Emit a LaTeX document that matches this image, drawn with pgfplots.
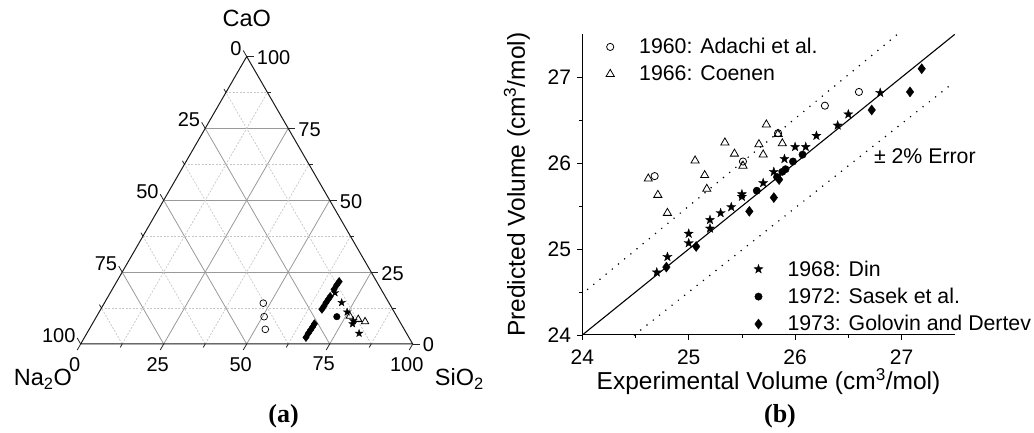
\documentclass[border=0pt]{standalone}
\usepackage{fontspec}
\setmainfont{Liberation Sans}
\newfontfamily\capfont{Liberation Serif}
\usepackage{pgfplots}
\usepackage{pgfplotstable}
\pgfplotsset{compat=1.18}
\usetikzlibrary{plotmarks}

\tikzset{
  ternmaj/.style={black!40, line width=0.8pt},
  ternmin/.style={black!22, line width=0.7pt, dash pattern=on 2pt off 1.5pt},
  ttick/.style={black!85, line width=0.8pt},
}

\pgfdeclareplotmark{fstar}{%
 \pgfpathmoveto{\pgfpointpolar{90}{\pgfplotmarksize}}%
 \pgfpathlineto{\pgfpointpolar{126}{0.40\pgfplotmarksize}}%
 \pgfpathlineto{\pgfpointpolar{162}{\pgfplotmarksize}}%
 \pgfpathlineto{\pgfpointpolar{198}{0.40\pgfplotmarksize}}%
 \pgfpathlineto{\pgfpointpolar{234}{\pgfplotmarksize}}%
 \pgfpathlineto{\pgfpointpolar{270}{0.40\pgfplotmarksize}}%
 \pgfpathlineto{\pgfpointpolar{306}{\pgfplotmarksize}}%
 \pgfpathlineto{\pgfpointpolar{342}{0.40\pgfplotmarksize}}%
 \pgfpathlineto{\pgfpointpolar{18}{\pgfplotmarksize}}%
 \pgfpathlineto{\pgfpointpolar{54}{0.40\pgfplotmarksize}}%
 \pgfpathclose
 \pgfusepathqfillstroke
}

% ---------- ternary compositions (SiO2, CaO) ----------
\pgfplotstableread{
S C
47.9 14.2
50.5 9.5
53.05 5.1
}\terAdachi
\pgfplotstableread{
S C
76.2 9.7
79.3 8.6
81.75 7.8
}\terCoenen
\pgfplotstableread{
S C
67.7 17.8
71.4 14.4
74.7 11.1
78.05 8.1
78.4 7.0
82.0 3.7
}\terDin
\pgfplotstableread{
S C
72.4 9.5
}\terSasek
\pgfplotstableread{
S C
66.7 2.3
66.7 3.7
66.8 4.9
66.9 6.0
66.9 7.0
66.6 12.1
66.7 13.2
66.7 14.4
66.8 15.5
66.9 16.5
66.8 19.0
66.85 20.5
67.0 21.7
}\terGolovin

% ---------- volumes (experimental, predicted) ----------
\pgfplotstableread{
x y
24.68 25.85
25.51 26.02
25.84 26.35
26.28 26.67
26.60 26.83
}\volAdachi
\pgfplotstableread{
x y
24.62 25.82
24.71 25.63
24.80 25.42
25.06 26.03
25.15 25.86
25.17 25.70
25.34 26.24
25.43 26.11
25.51 25.97
25.66 26.22
25.70 26.10
25.73 26.45
25.84 26.34
25.88 26.23
}\volCoenen
\pgfplotstableread{
x y
24.70 24.73
24.80 24.91
25.00 25.18
25.00 25.07
25.20 25.34
25.20 25.24
25.30 25.42
25.40 25.49
25.50 25.64
25.50 25.61
25.70 25.77
25.80 25.90
25.90 26.05
26.00 26.19
26.10 26.19
26.20 26.32
26.40 26.44
26.50 26.57
26.80 26.82
}\volDin
\pgfplotstableread{
x y
25.64 25.68
25.83 25.84
25.88 25.90
25.91 25.93
25.98 26.02
26.07 26.10
}\volSasek
\pgfplotstableread{
x y
24.79 24.79
25.07 25.03
25.57 25.44
25.80 25.60
25.85 25.81
26.72 26.62
27.08 26.83
27.19 27.10
}\volGolovin

\newcommand\tfont{\fontsize{20}{24}\selectfont}
\newcommand\bfontt{\fontsize{21}{25}\selectfont}
\newcommand\lfont{\fontsize{23.5}{28}\selectfont}
\newcommand\blfont{\fontsize{24.5}{29}\selectfont}
\newcommand\gfont{\fontsize{21.3}{25}\selectfont}

\begin{document}
\begin{tikzpicture}
\useasboundingbox (0pt,0pt) rectangle (1034pt,433pt);

% ================= (a) ternary =================
\begin{axis}[
  at={(80.7pt,89pt)}, anchor=south west,
  scale only axis, width=332pt, height=287.5pt,
  xmin=0, xmax=100, ymin=0, ymax=86.60254,
  hide axis, clip=false,
]
% grid
\pgfplotsinvokeforeach{25,50,75}{
  \draw[ternmaj] (axis cs:#1/2,0.8660254*#1) -- (axis cs:100-#1/2,0.8660254*#1);
  \draw[ternmaj] (axis cs:#1,0) -- (axis cs:50+#1/2,86.60254-0.8660254*#1);
  \draw[ternmaj] (axis cs:100-#1,0) -- (axis cs:50-#1/2,86.60254-0.8660254*#1);
}
\pgfplotsinvokeforeach{12.5,37.5,62.5,87.5}{
  \draw[ternmin] (axis cs:#1/2,0.8660254*#1) -- (axis cs:100-#1/2,0.8660254*#1);
  \draw[ternmin] (axis cs:#1,0) -- (axis cs:50+#1/2,86.60254-0.8660254*#1);
  \draw[ternmin] (axis cs:100-#1,0) -- (axis cs:50-#1/2,86.60254-0.8660254*#1);
  \draw[ttick] (axis cs:#1,0) -- (axis cs:#1-0.6,-1.04);
  \draw[ttick] (axis cs:100-#1/2,0.8660254*#1) -- (axis cs:101.2-#1/2,0.8660254*#1);
  \draw[ttick] (axis cs:50-#1/2,86.60254-0.8660254*#1) -- (axis cs:49.4-#1/2,87.64-0.8660254*#1);
}
\pgfplotsinvokeforeach{0,25,50,75,100}{
  \draw[ttick] (axis cs:#1,0) -- (axis cs:#1-1.05,-1.819);
  \draw[ttick] (axis cs:100-#1/2,0.8660254*#1) -- (axis cs:102.1-#1/2,0.8660254*#1);
  \draw[ttick] (axis cs:50-#1/2,86.60254-0.8660254*#1) -- (axis cs:48.95-#1/2,88.42-0.8660254*#1);
  \node[anchor=north, inner sep=0pt, xshift=-6pt, yshift=-13pt, font=\tfont] at (axis cs:#1,0) {#1};
  \node[anchor=west, inner sep=0pt, xshift=10pt, yshift=-1pt, font=\tfont] at (axis cs:100-#1/2,0.8660254*#1) {#1};
  \node[anchor=south east, inner sep=0pt, xshift=-5pt, yshift=1pt, font=\tfont] at (axis cs:50-#1/2,86.60254-0.8660254*#1) {#1};
}
\draw[black!90, line width=1pt] (axis cs:0,0) -- (axis cs:100,0) -- (axis cs:50,86.60254) -- cycle;

\node[anchor=base, inner sep=0pt, font=\lfont, yshift=29.5pt] at (axis cs:50,86.60254) {CaO};
\node[anchor=base east, inner sep=0pt, font=\lfont, xshift=-8.7pt, yshift=-42pt] at (axis cs:0,0) {Na\textsubscript{2}O};
\node[anchor=base west, inner sep=0pt, font=\lfont, xshift=22pt, yshift=-42pt] at (axis cs:100,0) {SiO\textsubscript{2}};

\addplot[only marks, mark=o, mark size=3.4pt, black, line width=0.7pt]
  table[x expr=\thisrow{S}+0.5*\thisrow{C}, y expr=0.8660254*\thisrow{C}] {\terAdachi};
\addplot[only marks, mark=triangle, mark size=4.2pt, black, line width=0.8pt]
  table[x expr=\thisrow{S}+0.5*\thisrow{C}, y expr=0.8660254*\thisrow{C}] {\terCoenen};
\addplot[only marks, mark=diamond*, mark size=4.2pt, black]
  table[x expr=\thisrow{S}+0.5*\thisrow{C}, y expr=0.8660254*\thisrow{C}] {\terGolovin};
\addplot[only marks, mark=fstar, mark size=4pt, black, line width=0.3pt]
  table[x expr=\thisrow{S}+0.5*\thisrow{C}, y expr=0.8660254*\thisrow{C}] {\terDin};
\addplot[only marks, mark=*, mark size=3.3pt, black]
  table[x expr=\thisrow{S}+0.5*\thisrow{C}, y expr=0.8660254*\thisrow{C}] {\terSasek};
\end{axis}

% ================= (b) volumes =================
\pgfplotsset{
  pbgeom/.style={
    at={(582.3pt,98pt)}, anchor=south west,
    scale only axis, width=372.4pt, height=300.6pt,
    xmin=24, xmax=27.5, ymin=24, ymax=27.5, clip=false,
  },
  pblegend/.style={
    legend image code/.code={\path[draw=none,fill=none] (-6pt,-6pt) rectangle (27pt,6pt); \draw[##1] plot coordinates {(0pt,0pt)};},
    legend style={draw=none, fill=none, font=\gfont, row sep=6.5pt, inner sep=0pt,
      nodes={inner sep=2pt}},
    legend cell align=left,
  },
}
\begin{axis}[pbgeom, pblegend,
  axis lines*=left, axis line style={-, line width=1pt},
  xtick={24,25,26,27}, ytick={24,25,26,27}, minor tick num=1,
  tick align=outside, major tick length=5pt, minor tick length=3pt,
  tick style={black, line width=0.8pt},
  /pgf/number format/assume math mode=true,
  ticklabel style={font=\bfontt},
  xticklabel style={anchor=north, inner sep=0pt, yshift=-10pt},
  yticklabel style={anchor=east, inner sep=0pt, xshift=-6pt},
  xlabel={Experimental Volume (cm\textsuperscript{3}/mol)},
  ylabel={Predicted Volume (cm\textsuperscript{3}/mol)},
  label style={font=\blfont},
  xlabel style={at={(axis description cs:0.5,0)}, anchor=base, yshift=-55pt},
  ylabel style={at={(axis description cs:-0.1753,0.5)}, anchor=center},
  legend style={at={(axis description cs:0.0583,0.9938)}, anchor=north west},
]
\addplot[black, line width=1.1pt, forget plot] coordinates {(24,24) (27.5,27.5)};
\addplot[black, line width=1.7pt, line cap=round, dash pattern=on 0pt off 8pt, forget plot]
  coordinates {(24.05,24.531) (26.96,27.499)};
\addplot[black, line width=1.7pt, line cap=round, dash pattern=on 0pt off 8pt, forget plot]
  coordinates {(24.49,24.0) (27.46,26.91)};
\addplot[only marks, mark=o, mark size=3.6pt, black, line width=0.8pt] table {\volAdachi};
\addlegendentry{1960: Adachi et al.}
\addplot[only marks, mark=triangle, mark size=4.7pt, black, line width=0.8pt] table {\volCoenen};
\addlegendentry{1966: Coenen}
\node[anchor=west, inner sep=0pt, font=\gfont] at (axis cs:26.74,26.08) {± 2\% Error};
\end{axis}

\begin{axis}[pbgeom, pblegend, hide axis,
  legend style={at={(axis description cs:0.4565,0.2545)}, anchor=north west},
]
\addplot[only marks, mark=fstar, mark size=4.8pt, black, line width=0.3pt] table {\volDin};
\addlegendentry{1968: Din}
\addplot[only marks, mark=*, mark size=3.7pt, black] table {\volSasek};
\addlegendentry{1972: Sasek et al.}
\addplot[only marks, mark=diamond*, mark size=5pt, black] table {\volGolovin};
\addlegendentry{1973: Golovin and Dertev}
\end{axis}

\node[font=\capfont\bfseries\fontsize{26}{30}\selectfont, inner sep=0pt] at (283.5pt,17pt) {(a)};
\node[font=\capfont\bfseries\fontsize{26}{30}\selectfont, inner sep=0pt] at (780pt,17pt) {(b)};
\end{tikzpicture}
\end{document}
